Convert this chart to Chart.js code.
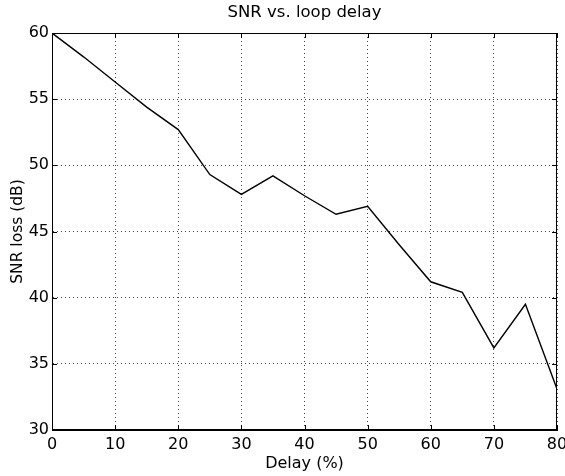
<!DOCTYPE html>
<html>
<head>
<meta charset="utf-8">
<script src="https://cdn.jsdelivr.net/npm/chart.js@4/dist/chart.umd.min.js"></script>
<style>
  html, body { margin: 0; padding: 0; background: #fff; }
  #wrap { width: 565px; height: 476px; position: relative; }
</style>
</head>
<body>
<div id="wrap"><canvas id="c" width="565" height="476"></canvas></div>
<script>
const delays = [0, 5, 10, 15, 20, 25, 30, 35, 40, 45, 50, 55, 60, 65, 70, 75, 80];
const snrLoss = [60, 58.2, 56.3, 54.4, 52.7, 49.3, 47.8, 49.2, 47.7, 46.3, 46.9, 44.0, 41.2, 40.4, 36.2, 39.5, 33.1];
const xTicks = [0, 10, 20, 30, 40, 50, 60, 70, 80];
const yTicks = [30, 35, 40, 45, 50, 55, 60];
const titleText = 'SNR vs. loop delay';
const xTitle = 'Delay (%)';
const yTitle = 'SNR loss (dB)';

const FONT = "'DejaVu Sans', 'Liberation Sans', sans-serif";

const framePlugin = {
  id: 'frame',
  afterDatasetsDraw(chart) {
    const { ctx, chartArea: a, scales } = chart;
    ctx.save();
    ctx.strokeStyle = '#000';
    ctx.lineWidth = 1;
    ctx.setLineDash([]);
    ctx.strokeRect(a.left + 0.5, a.top + 0.5, a.right - a.left - 1, a.bottom - a.top - 1);
    ctx.beginPath();
    const len = 5;
    scales.x.ticks.forEach(t => {
      const px = Math.round(scales.x.getPixelForValue(t.value)) + 0.5;
      ctx.moveTo(px, a.bottom); ctx.lineTo(px, a.bottom - len);
      ctx.moveTo(px, a.top); ctx.lineTo(px, a.top + len);
    });
    scales.y.ticks.forEach(t => {
      const py = Math.round(scales.y.getPixelForValue(t.value)) + 0.5;
      ctx.moveTo(a.left, py); ctx.lineTo(a.left + len, py);
      ctx.moveTo(a.right, py); ctx.lineTo(a.right - len, py);
    });
    ctx.stroke();
    ctx.restore();
  }
};

new Chart(document.getElementById('c'), {
  type: 'line',
  data: {
    datasets: [{
      data: delays.map((d, i) => ({ x: d, y: snrLoss[i] })),
      borderColor: '#000',
      borderWidth: 1.4,
      pointRadius: 0,
      tension: 0,
      fill: false
    }]
  },
  options: {
    responsive: false,
    animation: false,
    devicePixelRatio: 1,
    layout: { padding: { left: 0, right: 8, top: 0, bottom: 0 } },
    plugins: {
      legend: { display: false },
      tooltip: { enabled: false },
      title: {
        display: true,
        text: titleText,
        fullSize: false,
        color: '#000',
        font: { family: FONT, size: 16.5, weight: 'normal' },
        padding: { top: 3, bottom: 10.2 }
      }
    },
    scales: {
      x: {
        type: 'linear',
        min: 0, max: 80,
        afterBuildTicks(scale) { scale.ticks = xTicks.map(v => ({ value: v })); },
        afterFit(scale) { scale.height = 46; scale.paddingLeft = 0; scale.paddingRight = 0; },
        ticks: {
          color: '#000',
          padding: 5,
          maxRotation: 0,
          font: { family: FONT, size: 16 }
        },
        grid: { color: '#444', lineWidth: 1, drawTicks: false },
        border: { display: true, color: '#000', width: 1, dash: [1, 3] },
        title: {
          display: true, text: xTitle, color: '#000',
          font: { family: FONT, size: 16 },
          padding: { top: 0, bottom: 3 }
        }
      },
      y: {
        type: 'linear',
        min: 30, max: 60,
        afterBuildTicks(scale) { scale.ticks = yTicks.map(v => ({ value: v })); },
        afterFit(scale) { scale.width = 52; scale.paddingTop = 0; scale.paddingBottom = 0; },
        ticks: {
          color: '#000',
          padding: 3,
          font: { family: FONT, size: 16 }
        },
        grid: { color: '#444', lineWidth: 1, drawTicks: false },
        border: { display: true, color: '#000', width: 1, dash: [1, 3] },
        title: {
          display: true, text: yTitle, color: '#000',
          font: { family: FONT, size: 15.5 },
          padding: { top: 8.5, bottom: 0 }
        }
      }
    }
  },
  plugins: [framePlugin]
});
</script>
</body>
</html>
